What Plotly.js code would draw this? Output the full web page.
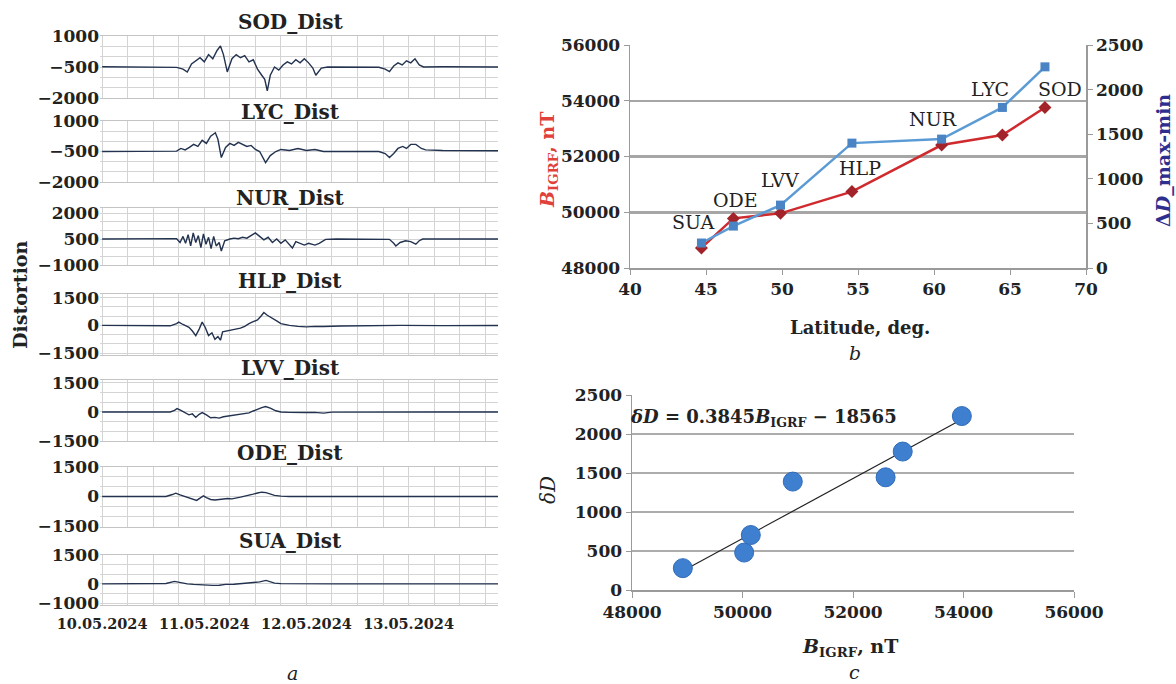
<!DOCTYPE html>
<html>
<head>
<meta charset="utf-8">
<script src="https://cdn.plot.ly/plotly-3.0.1.min.js"></script>
<style>html,body{margin:0;padding:0;background:#fff;}#chart{width:1176px;height:684px;}</style>
</head>
<body>
<div id="chart"></div>
<script>
// ---------- DATA ----------
const panelTitles = ['SOD_Dist','LYC_Dist','NUR_Dist','HLP_Dist','LVV_Dist','ODE_Dist','SUA_Dist'];
const dateLabels = ['10.05.2024','11.05.2024','12.05.2024','13.05.2024'];
const dateTickHours = [0, 24, 48, 72];

const sodHours  = [0,8,16,17.5,19,20,21,22,23,24,25,26,27,27.8,28.5,29.4,30.5,31.5,32.5,33.5,34.5,35.5,36.5,37.5,38.2,38.8,39.5,40.5,41.5,42.5,43.5,44.5,45.5,46.5,47.5,48.5,49.5,50.2,51.5,53,60,65,66.5,67.5,68.5,69.5,70.5,71.5,72.5,73.5,74.5,75.5,80,93.6];
const sodValues = [-490,-500,-500,-520,-600,-740,-350,-200,-50,-250,100,-100,300,520,100,-740,-100,100,-50,50,-250,-150,-600,-900,-1100,-1650,-900,-500,-650,-400,-250,-350,-150,-300,-100,-300,-550,-900,-550,-500,-500,-510,-600,-720,-450,-300,-400,-200,-300,-100,-400,-500,-490,-500];

const lycHours  = [0,8,16,17.5,18.5,19.5,20.5,21.5,22.5,23.5,24.5,25.5,26.6,27.2,28,29,30,31,32,33,34,35,36,37,38.4,39.5,40.8,42,44,46,48,50,52,55,65,66.5,67.5,68.5,69.5,70.6,71.5,72.5,73.7,75,76,80,93.6];
const lycValues = [-500,-500,-500,-480,-350,-420,-300,-150,-250,50,-100,250,420,100,-800,-300,-100,-200,-50,-150,-250,-200,-400,-500,-1050,-700,-500,-400,-450,-350,-450,-400,-500,-500,-500,-600,-800,-600,-350,-250,-350,-150,-150,-350,-420,-450,-460];

const nurHours  = [0,8,16,17.5,18.3,19,19.6,20.2,20.8,21.4,22,22.6,23.2,23.8,24.4,25,25.6,26.2,26.8,27.5,28,28.8,30,31,32,33,34,35,36,37,38,39,40,41,42,43,44,44.7,45.5,46.5,47.5,48.5,50,51,52.5,55,65,67.5,68.5,69,70,71.3,72.5,73.7,74.5,75.3,80,93.6];
const nurValues = [500,500,500,520,300,650,250,750,100,850,300,700,0,800,200,600,-50,650,100,300,-190,400,500,550,520,600,550,700,850,650,450,600,300,500,250,450,150,-20,350,250,150,250,150,250,480,500,500,480,250,100,300,400,350,200,400,500,500,500];

const hlpHours  = [0,8,16,17.5,18,19,20.4,21.2,22,22.8,23.5,24.2,25,25.8,26.5,27.2,27.8,28.3,29.5,31,32.5,33.5,34.5,35.5,36.5,37.3,38,38.8,40,41,42,44,46,48,50,52,56,62,70,80,93.6];
const hlpValues = [0,0,-20,100,180,50,-100,-300,-550,-200,180,-100,-550,-400,-750,-600,-800,-350,-300,-250,-150,-50,100,200,300,500,700,550,400,250,100,0,-50,-80,-50,-60,-30,0,0,-10,0];

const lvvHours  = [0,8,16,17,17.6,18.5,19.5,20.4,21.2,22,22.8,23.5,24.5,25.5,26.5,27.5,28.5,30,31.5,33,34.5,35.5,36.5,37.5,38.4,39.5,40.8,42,44,46,48,50,52,54,60,80,93.6];
const lvvValues = [0,0,0,80,170,80,-50,-150,-100,-280,-120,-30,-150,-300,-280,-320,-250,-200,-180,-100,-50,50,150,220,280,200,60,0,-20,-40,-30,-20,-60,-10,0,0,0];

const odeHours  = [0,8,15,16.5,17.3,18.3,19.5,20.5,21.5,22.2,23,23.8,24.5,25.5,26.5,27.5,28.5,29.5,30.5,31.5,32.5,33.5,34.5,35.5,36.5,37.5,38.5,39.5,40.5,42,44,50,93.6];
const odeValues = [0,0,0,100,170,80,0,-60,-150,-200,-80,30,-60,-150,-180,-150,-130,-100,-120,-60,-30,20,60,120,180,220,200,120,60,20,0,0,0];

const suaHours  = [0,10,15,17,18.5,20,21.5,23,24.5,26,27.5,29,31,32.5,34,35.5,37,38.5,39.5,40.5,42,45,55,93.6];
const suaValues = [0,0,20,130,60,0,-30,-50,-60,-80,-70,-30,-20,10,40,70,100,180,120,40,10,0,0,0];

// Panel b
const stations  = ['SUA','ODE','LVV','HLP','NUR','LYC','SOD'];
const latitude  = [44.7, 46.8, 49.9, 54.6, 60.5, 64.5, 67.3];
const bIgrfB    = [48720, 49780, 49960, 50740, 52410, 52770, 53760];
const deltaDB   = [280, 470, 705, 1400, 1445, 1800, 2255];
// Panel c
const bIgrfC    = [48920, 50030, 50150, 50910, 52590, 52900, 53970];
const deltaDC   = [280, 480, 705, 1390, 1445, 1775, 2230];
const trendSlope = 0.3845, trendIntercept = -18565;
const trendX = [48900, 54000];

// ---------- LAYOUT HELPERS ----------
const W = 1176, H = 684;
const px = x => x / W;
const py = y => 1 - y / H;
const SERIF = 'DejaVu Serif';

const leftSeries = [
  [sodHours, sodValues], [lycHours, lycValues], [nurHours, nurValues], [hlpHours, hlpValues],
  [lvvHours, lvvValues], [odeHours, odeValues], [suaHours, suaValues]
];
const leftBoxes = [
  {top:36,  bot:98,  range:[-2000,1000], tv:[-2000,-500,1000], ty:22},
  {top:121, bot:182, range:[-2000,1000], tv:[-2000,-500,1000], ty:112},
  {top:208, bot:265, range:[-1000,2290], tv:[-1000,500,2000],  ty:198},
  {top:294, bot:355, range:[-1600,1700], tv:[-1500,0,1500],    ty:281},
  {top:380, bot:441, range:[-1500,1650], tv:[-1500,0,1500],    ty:368},
  {top:467, bot:527, range:[-1550,1500], tv:[-1500,0,1500],    ty:453},
  {top:555, bot:605, range:[-1100,1500], tv:[-1000,0,1500],    ty:541}
];

const traces = [];
const layout = {
  width: W, height: H,
  margin: {l:0, r:0, t:0, b:0},
  paper_bgcolor: '#fff', plot_bgcolor: '#fff',
  showlegend: false,
  font: {family: SERIF, color: '#222'},
  annotations: []
};

const gridC = '#d4d4d4';
leftBoxes.forEach((b, i) => {
  const n = i + 1;
  const xa = 'xaxis' + n, ya = 'yaxis' + n;
  traces.push({
    x: leftSeries[i][0], y: leftSeries[i][1], type: 'scatter', mode: 'lines',
    xaxis: 'x' + n, yaxis: 'y' + n,
    line: {color: '#22324f', width: 1.4}, hoverinfo: 'skip'
  });
  layout[xa] = {
    domain: [px(100), px(498)], anchor: 'y' + n, range: [-0.5, 93],
    tickmode: 'array', tickvals: dateTickHours, ticktext: dateLabels,
    showticklabels: i === 6, ticks: '', ticklabelstandoff: 6,
    tickfont: {family: SERIF, size: 14.5, weight: 'bold', color: '#222'},
    showgrid: true, gridcolor: gridC, gridwidth: 1,
    minor: {tickmode: 'linear', tick0: 0, dtick: 6, showgrid: true, gridcolor: gridC, gridwidth: 1, ticks: ''},
    showline: true, mirror: true, linecolor: '#c4c4c4', linewidth: 1, zeroline: false
  };
  if (i > 0) layout[xa].matches = 'x';
  layout[ya] = {
    domain: [py(b.bot), py(b.top)], anchor: 'x' + n, range: b.range,
    tickmode: 'array', tickvals: b.tv, ticks: '',
    tickfont: {family: SERIF, size: 17, weight: 'bold', color: '#222'},
    showgrid: true, gridcolor: gridC, gridwidth: 1,
    minor: {tickmode: 'linear', tick0: 0, dtick: 500, showgrid: true, gridcolor: gridC, gridwidth: 1, ticks: ''},
    showline: false, zeroline: false
  };
  layout.annotations.push({
    text: panelTitles[i], xref: 'paper', yref: 'paper', x: px(290), y: py(b.ty),
    xanchor: 'center', yanchor: 'middle', showarrow: false,
    font: {family: SERIF, size: 20, weight: 'bold', color: '#222'}
  });
});

// Panel b
traces.push({
  x: latitude, y: bIgrfB, type: 'scatter', mode: 'lines+markers', xaxis: 'x8', yaxis: 'y8',
  line: {color: '#cf2a2e', width: 2.5},
  marker: {symbol: 'diamond', size: 10, color: '#a3232b'}, hoverinfo: 'skip'
});
traces.push({
  x: latitude, y: deltaDB, type: 'scatter', mode: 'lines+markers', xaxis: 'x8', yaxis: 'y9',
  line: {color: '#5b9bd5', width: 2.5},
  marker: {symbol: 'square', size: 9, color: '#4a84c4'}, hoverinfo: 'skip'
});
const axLine = '#9a9a9a';
const tickF = {family: SERIF, size: 17, weight: 'bold', color: '#222'};
layout.xaxis8 = {
  domain: [px(630), px(1086)], anchor: 'y8', range: [40, 70], dtick: 5, tick0: 40,
  showgrid: false, showline: true, linecolor: axLine, linewidth: 1.5,
  ticks: 'outside', ticklen: 5, tickcolor: axLine, tickfont: tickF, zeroline: false
};
layout.yaxis8 = {
  domain: [py(268), py(45)], anchor: 'x8', range: [48000, 56000], dtick: 2000, tick0: 48000,
  tickformat: 'd', showgrid: true, gridcolor: '#a6a6a6', gridwidth: 2.5,
  showline: true, linecolor: axLine, linewidth: 1.5,
  ticks: 'outside', ticklen: 5, tickcolor: axLine, tickfont: tickF, zeroline: false
};
layout.yaxis9 = {
  overlaying: 'y8', anchor: 'x8', side: 'right', range: [0, 2500], dtick: 500, tick0: 0,
  showgrid: false, showline: true, linecolor: axLine, linewidth: 1.5,
  ticks: 'outside', ticklen: 5, tickcolor: axLine, tickfont: tickF, zeroline: false
};
const stationLabelPos = [[693,222],[735,200],[780,180],[860,168],[933,119],[990,89],[1060,89]];
stations.forEach((s, i) => {
  layout.annotations.push({
    text: s, xref: 'paper', yref: 'paper', x: px(stationLabelPos[i][0]), y: py(stationLabelPos[i][1]),
    xanchor: 'center', yanchor: 'middle', showarrow: false,
    font: {family: SERIF, size: 19, color: '#222'}
  });
});

// Panel c
traces.push({
  x: trendX, y: trendX.map(v => trendSlope * v + trendIntercept), type: 'scatter', mode: 'lines',
  xaxis: 'x10', yaxis: 'y10', line: {color: '#222', width: 1.2}, hoverinfo: 'skip'
});
traces.push({
  x: bIgrfC, y: deltaDC, type: 'scatter', mode: 'markers', xaxis: 'x10', yaxis: 'y10',
  marker: {size: 19, color: '#3f7fd0', line: {color: '#2f6cb8', width: 1}}, hoverinfo: 'skip'
});
layout.xaxis10 = {
  domain: [px(632), px(1074)], anchor: 'y10', range: [48000, 56000], dtick: 2000, tick0: 48000,
  tickformat: 'd', showgrid: false, showline: true, linecolor: axLine, linewidth: 1.5,
  ticks: 'outside', ticklen: 6, tickcolor: axLine, tickfont: tickF, zeroline: false
};
layout.yaxis10 = {
  domain: [py(590), py(395)], anchor: 'x10', range: [0, 2500], dtick: 500, tick0: 0,
  showgrid: true, gridcolor: '#acacac', gridwidth: 2,
  showline: true, linecolor: axLine, linewidth: 1.5,
  ticks: 'outside', ticklen: 5, tickcolor: axLine, tickfont: tickF, zeroline: false
};

// Titles / labels
const ann = (text, x, y, opts) => layout.annotations.push(Object.assign({
  text, xref: 'paper', yref: 'paper', x: px(x), y: py(y), xanchor: 'center', yanchor: 'middle', showarrow: false,
  font: {family: SERIF, size: 18, color: '#222'}
}, opts || {}));

ann('Distortion', 20, 295, {textangle: -90, font: {family: SERIF, size: 19, weight: 'bold', color: '#222'}});
ann('<i>a</i>', 292, 673, {font: {family: SERIF, size: 19, color: '#222'}});
ann('Latitude, deg.', 860, 327, {font: {family: SERIF, size: 18, weight: 'bold', color: '#222'}});
ann('<i>b</i>', 855, 353, {font: {family: SERIF, size: 19, color: '#222'}});
ann('<i>B</i><sub>IGRF</sub>, nT', 548, 160, {textangle: -90, font: {family: SERIF, size: 19, weight: 'bold', color: '#e0413a'}});
ann('Δ<i>D</i>_max-min', 1163, 161, {textangle: -90, font: {family: SERIF, size: 19, weight: 'bold', color: '#2e2e8e'}});
ann('<i>δD</i> = 0.3845<i>B</i><sub>IGRF</sub> − 18565', 763, 418, {font: {family: SERIF, size: 18, weight: 'bold', color: '#222'}});
ann('<i>B</i><sub>IGRF</sub>, nT', 850, 647, {font: {family: SERIF, size: 19, weight: 'bold', color: '#222'}});
ann('<i>c</i>', 854, 672, {font: {family: SERIF, size: 19, color: '#222'}});
ann('<i>δD</i>', 548, 490, {textangle: -90, font: {family: SERIF, size: 20, color: '#222'}});

Plotly.newPlot('chart', traces, layout, {staticPlot: true, displayModeBar: false});
</script>
</body>
</html>
